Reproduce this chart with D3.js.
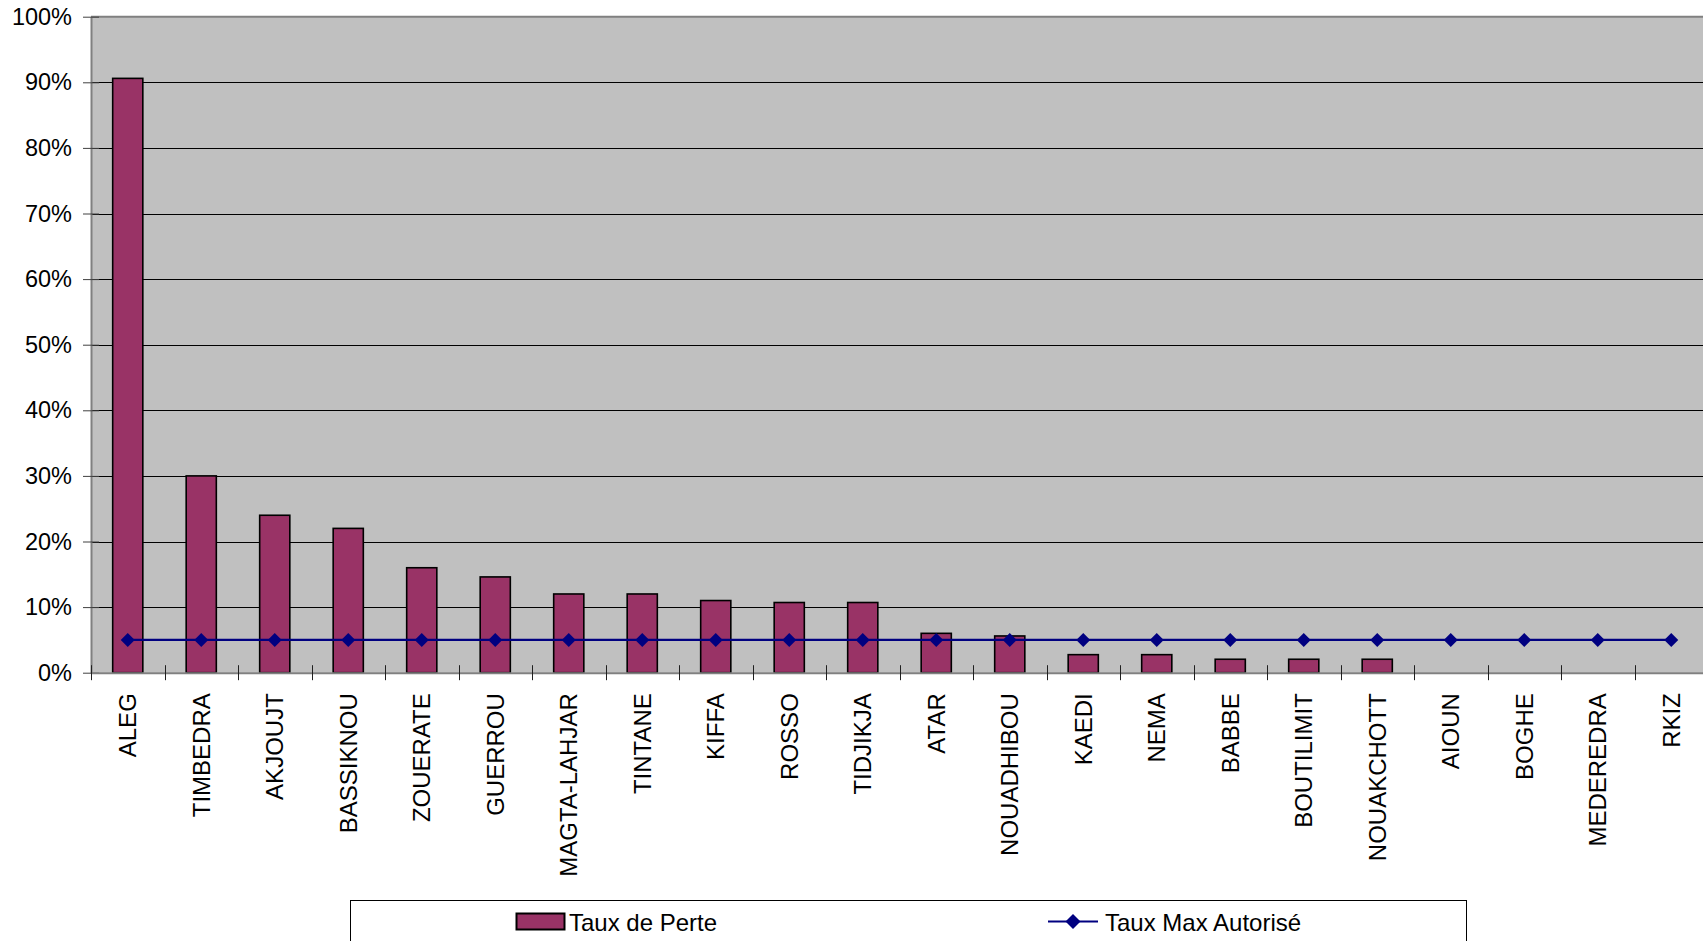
<!DOCTYPE html>
<html>
<head>
<meta charset="utf-8">
<script src="https://cdn.jsdelivr.net/npm/d3@7"></script>
<style>
  body { margin: 0; background: #fff; }
  text { font-family: "Liberation Sans", Arial, sans-serif; }
</style>
</head>
<body>
<div id="chart"></div>
<script>
// données
const categories = ["ALEG", "TIMBEDRA", "AKJOUJT", "BASSIKNOU", "ZOUERATE", "GUERROU",
  "MAGTA-LAHJAR", "TINTANE", "KIFFA", "ROSSO", "TIDJIKJA", "ATAR", "NOUADHIBOU",
  "KAEDI", "NEMA", "BABBE", "BOUTILIMIT", "NOUAKCHOTT", "AIOUN", "BOGHE", "MEDEREDRA", "RKIZ"];
const tauxPerte = [0.906, 0.30, 0.24, 0.22, 0.16, 0.146, 0.12, 0.12, 0.11, 0.107, 0.107,
  0.06, 0.056, 0.0275, 0.0275, 0.0205, 0.0205, 0.0205, 0, 0, 0, 0];
const tauxMax = [0.05, 0.05, 0.05, 0.05, 0.05, 0.05, 0.05, 0.05, 0.05, 0.05, 0.05,
  0.05, 0.05, 0.05, 0.05, 0.05, 0.05, 0.05, 0.05, 0.05, 0.05, 0.05];
const yTicks = [0, 0.1, 0.2, 0.3, 0.4, 0.5, 0.6, 0.7, 0.8, 0.9, 1.0];
const seriesNames = ["Taux de Perte", "Taux Max Autorisé"];

const width = 1703, height = 941;
const plot = { left: 91, right: 1708, top: 16.7, bottom: 672.7 };
const barColor = "#993366", lineColor = "#000080";

const svg = d3.select("#chart").append("svg")
  .attr("width", width)
  .attr("height", height);

// échelles
const x = d3.scaleBand()
  .domain(categories)
  .range([plot.left, plot.right])
  .padding(0);

const xBar = d3.scaleBand()
  .domain(categories)
  .range([plot.left, plot.right])
  .paddingInner(0.59)
  .paddingOuter(0.295);

const y = d3.scaleLinear()
  .domain([0, 1])
  .range([plot.bottom, plot.top]);

// fond de la zone de traçage
svg.append("rect")
  .attr("x", plot.left)
  .attr("y", plot.top)
  .attr("width", plot.right - plot.left)
  .attr("height", plot.bottom - plot.top)
  .attr("fill", "#c0c0c0");

// quadrillage
svg.append("g")
  .selectAll("line")
  .data(yTicks.filter(d => d > 0 && d < 1))
  .join("line")
  .attr("x1", plot.left)
  .attr("x2", plot.right)
  .attr("y1", d => Math.round(y(d)) + 0.5)
  .attr("y2", d => Math.round(y(d)) + 0.5)
  .attr("stroke", "#000")
  .attr("stroke-width", 1);

// bordure haute
svg.append("line")
  .attr("x1", plot.left).attr("x2", plot.right)
  .attr("y1", y(1)).attr("y2", y(1))
  .attr("stroke", "#808080").attr("stroke-width", 2);

// barres
svg.append("g")
  .selectAll("rect")
  .data(tauxPerte.map((v, i) => ({ c: categories[i], v })).filter(d => d.v > 0))
  .join("rect")
  .attr("x", d => xBar(d.c))
  .attr("y", d => y(d.v))
  .attr("width", xBar.bandwidth())
  .attr("height", d => y(0) - y(d.v))
  .attr("fill", barColor)
  .attr("stroke", "#000")
  .attr("stroke-width", 1.6);

// axe Y
const yAxis = svg.append("g")
  .attr("transform", `translate(${plot.left},0)`)
  .call(d3.axisLeft(y).tickValues(yTicks).tickFormat(d3.format(".0%")).tickSizeInner(8).tickSizeOuter(0).tickPadding(11));
yAxis.select(".domain").attr("stroke", "#808080").attr("stroke-width", 2);
yAxis.selectAll(".tick line").attr("stroke", "#404040").attr("x2", -8).attr("x1", 8);
yAxis.selectAll(".tick text")
  .attr("font-size", 23.5)
  .attr("fill", "#000")
  .attr("font-family", "'Liberation Sans', Arial, sans-serif");

// axe X
const xAxis = svg.append("g")
  .attr("transform", `translate(0,${plot.bottom})`)
  .call(d3.axisBottom(x).tickSize(0).tickPadding(0));
xAxis.select(".domain").attr("stroke", "#808080").attr("stroke-width", 2);
xAxis.selectAll(".tick text")
  .attr("font-size", 24)
  .attr("fill", "#000")
  .attr("font-family", "'Liberation Sans', Arial, sans-serif")
  .attr("text-anchor", "end")
  .attr("transform", "translate(0,20.5) rotate(-90)")
  .attr("x", 0)
  .attr("y", 0)
  .attr("dy", "0.35em");

// graduations entre catégories
svg.append("g")
  .selectAll("line")
  .data(categories)
  .join("line")
  .attr("x1", d => Math.round(x(d)) + 0.5)
  .attr("x2", d => Math.round(x(d)) + 0.5)
  .attr("y1", plot.bottom - 7.5)
  .attr("y2", plot.bottom + 7.5)
  .attr("stroke", "#202020")
  .attr("stroke-width", 1);

// ligne du taux max
const line = d3.line()
  .x((d, i) => x(categories[i]) + x.bandwidth() / 2)
  .y(d => y(d));

svg.append("path")
  .datum(tauxMax)
  .attr("fill", "none")
  .attr("stroke", lineColor)
  .attr("stroke-width", 2.2)
  .attr("d", line);

const diamond = d3.symbol().type(d3.symbolDiamond2).size(125);
svg.append("g")
  .selectAll("path")
  .data(tauxMax)
  .join("path")
  .attr("transform", (d, i) => `translate(${x(categories[i]) + x.bandwidth() / 2},${y(d)})`)
  .attr("d", diamond)
  .attr("fill", lineColor);

// légende
const legend = svg.append("g");
legend.append("rect")
  .attr("x", 350.5).attr("y", 900.5)
  .attr("width", 1116).attr("height", 80)
  .attr("fill", "#fff")
  .attr("stroke", "#000")
  .attr("stroke-width", 1);

legend.append("rect")
  .attr("x", 516.5).attr("y", 913.5)
  .attr("width", 48).attr("height", 16)
  .attr("fill", barColor)
  .attr("stroke", "#000")
  .attr("stroke-width", 2);
legend.append("text")
  .attr("x", 569).attr("y", 931)
  .attr("font-size", 24)
  .text(seriesNames[0]);

legend.append("line")
  .attr("x1", 1048).attr("x2", 1098)
  .attr("y1", 921.5).attr("y2", 921.5)
  .attr("stroke", lineColor).attr("stroke-width", 2.2);
legend.append("path")
  .attr("transform", "translate(1073,921.5)")
  .attr("d", d3.symbol().type(d3.symbolDiamond2).size(144))
  .attr("fill", lineColor);
legend.append("text")
  .attr("x", 1105).attr("y", 931)
  .attr("font-size", 24)
  .text(seriesNames[1]);
</script>
</body>
</html>
